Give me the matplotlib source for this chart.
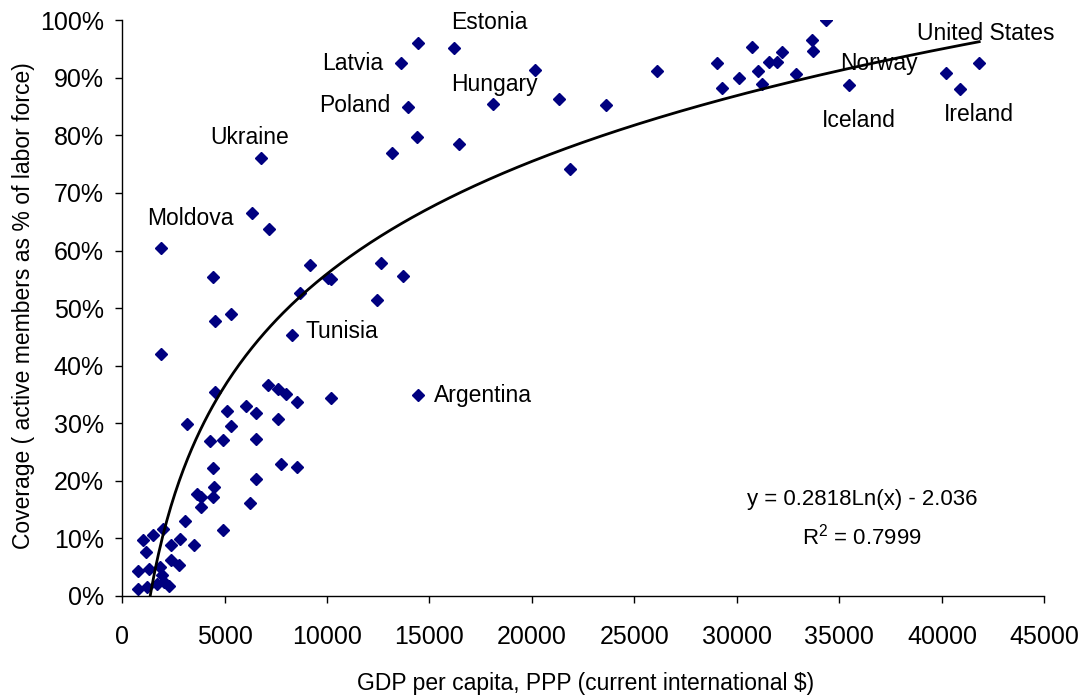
import numpy as np
import matplotlib.pyplot as plt
from matplotlib.ticker import FuncFormatter

plt.rcParams['font.family'] = ['Liberation Sans', 'DejaVu Sans']

# GDP per capita (PPP, current international $) and pension coverage (%)
gdp = [14455, 16195, 13610, 13967, 14374, 13154, 16430, 6797, 6358, 7171,
       1902, 4455, 9171, 12634, 10033, 10179, 13724, 8683, 12455, 5333,
       4520, 8293, 1902, 4553, 7100, 7626, 7984, 8520, 10200, 14423,
       6065, 6530, 5114, 7585, 3180, 5301, 4276, 4927, 6520, 4430,
       7750, 8560, 6560, 4480, 3660, 3870, 4439, 3846, 6240, 3070,
       4950, 2020, 1528, 1030, 2850, 2410, 3520, 1180, 2400, 2770,
       797, 1333, 1870, 1970, 2070, 2280, 797, 1203, 1690,
       20130, 18082, 21317, 23593, 21854, 26098, 29010, 29285, 30114, 30732,
       31041, 31220, 31577, 31967, 32179, 33642, 33691, 32878, 34341, 35480,
       40179, 40894, 41821]
coverage = [96.1, 95.2, 92.6, 85.0, 79.7, 77.0, 78.5, 76.0, 66.6, 63.8,
            60.5, 55.4, 57.5, 57.9, 55.2, 55.0, 55.6, 52.7, 51.4, 49.0,
            47.8, 45.3, 42.1, 35.5, 36.6, 35.9, 35.0, 33.6, 34.4, 34.9,
            33.0, 31.7, 32.1, 30.8, 29.8, 29.6, 26.9, 27.0, 27.3, 22.3,
            22.9, 22.4, 20.3, 18.9, 17.7, 17.2, 17.2, 15.4, 16.1, 13.0,
            11.4, 11.7, 10.5, 9.8, 9.95, 8.9, 8.8, 7.7, 6.3, 5.4,
            4.4, 4.6, 5.1, 3.6, 2.5, 1.65, 1.2, 1.5, 2.1,
            91.4, 85.5, 86.3, 85.2, 74.2, 91.1, 92.5, 88.2, 90.0, 95.4,
            91.1, 88.9, 92.7, 92.7, 94.4, 96.5, 94.7, 90.6, 100.0, 88.8,
            90.9, 88.1, 92.6]

# country labels: name, x, y, horizontal alignment
label_names = ['Estonia', 'Latvia', 'Hungary', 'Poland', 'Ukraine', 'Moldova',
               'Tunisia', 'Argentina', 'United States', 'Norway', 'Iceland', 'Ireland']
label_x = [16050, 12730, 16050, 13070, 4290, 1220,
           8930, 15220, 38780, 35020, 34150, 40100]
label_y = [99.6, 92.5, 88.9, 85.1, 79.7, 65.5,
           46.0, 34.9, 97.7, 92.4, 82.5, 83.7]
label_ha = ['left', 'right', 'left', 'right', 'left', 'left',
            'left', 'left', 'left', 'left', 'left', 'left']

# logarithmic trend line
slope, intercept = 0.2818, -2.036
r2 = 0.7999

fig = plt.figure(figsize=(10.8, 6.97), dpi=100)
ax = fig.add_axes([0.113, 0.145, 0.854, 0.826])

ax.plot(gdp, coverage, linestyle='none', marker='D', ms=6.5,
        color='#000080', mec='#000080')

xt = np.linspace(np.exp(-intercept / slope), max(gdp), 400)
ax.plot(xt, (slope * np.log(xt) + intercept) * 100, color='black', lw=2)

for name, x, y, ha in zip(label_names, label_x, label_y, label_ha):
    ax.text(x, y, name, ha=ha, va='center', fontsize=16.5)

ax.text(36100, 16.7, 'y = %.4fLn(x) - %.3f' % (slope, -intercept),
        ha='center', va='center', fontsize=16)
ax.text(36100, 10.3, '$\\mathregular{R^2}$ = %.4f' % r2,
        ha='center', va='center', fontsize=16)

ax.set_xlim(0, 45000)
ax.set_ylim(0, 100)
ax.set_xticks(np.arange(0, 45001, 5000))
ax.set_yticks(np.arange(0, 101, 10))
ax.yaxis.set_major_formatter(FuncFormatter(lambda v, p: '%d%%' % v))

for s in ['top', 'right']:
    ax.spines[s].set_visible(False)
ax.spines['left'].set_linewidth(1)
ax.spines['bottom'].set_linewidth(1)
ax.tick_params(axis='both', direction='out', length=5, width=1, labelsize=18)
ax.tick_params(axis='x', pad=16)
ax.tick_params(axis='y', pad=8)

ax.set_xlabel('GDP per capita, PPP (current international $)', fontsize=16.5)
ax.set_ylabel('Coverage ( active members as % of labor force)', fontsize=16.5)
ax.xaxis.set_label_coords(0.503, -0.132)
ax.yaxis.set_label_coords(-0.094, 0.505)

fig.savefig('out.png', dpi=100)
